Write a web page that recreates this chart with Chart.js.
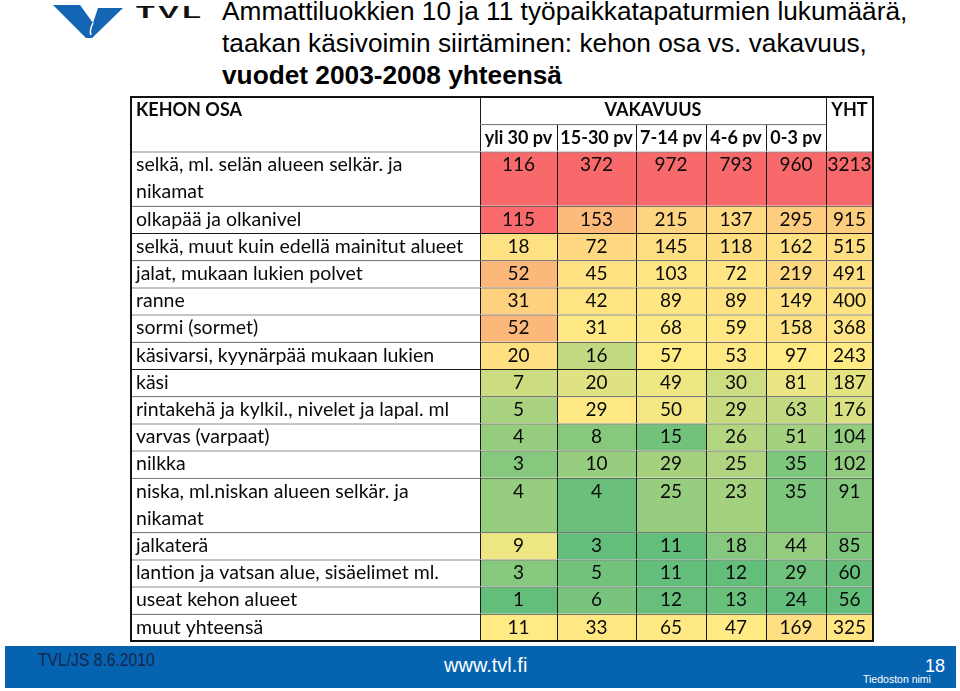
<!DOCTYPE html>
<html>
<head>
<meta charset="utf-8">
<script src="https://cdn.jsdelivr.net/npm/chart.js@4.4.1/dist/chart.umd.min.js"></script>
<style>
body{margin:0;background:#fff;width:960px;height:691px;overflow:hidden;position:relative;font-family:"Liberation Sans",Arial,sans-serif}
#kaavio{position:absolute;left:0;top:0}
.otsikko{position:absolute;left:222px;white-space:nowrap;font-size:25px;line-height:32px;color:#000;transform-origin:0 0;transform:scaleX(1.05)}
#logo{position:absolute;left:0;top:0}
.tvl{position:absolute;left:136px;top:3px;font-weight:bold;font-size:17px;letter-spacing:2px;transform-origin:0 0;transform:scaleX(1.8);color:#111}
#alaosa{position:absolute;left:5px;top:646px;width:951px;height:42px;background:#0563b0}
#alaosa div{position:absolute;white-space:nowrap;transform-origin:0 0}
</style>
</head>
<body>
<svg id="logo" width="130" height="45">
  <polygon points="53,5 80,5 93,23 98,8 123,8 92,38 86,38" fill="#1565b5"/>
  <path d="M93,23 Q89,31 91,35" stroke="#fff" stroke-width="1.5" fill="none"/>
</svg>
<div class="tvl">TVL</div>
<div class="otsikko" style="top:-5px">Ammattiluokkien 10 ja 11 työpaikkatapaturmien lukumäärä,</div>
<div class="otsikko" style="top:27px">taakan käsivoimin siirtäminen: kehon osa vs. vakavuus,</div>
<div class="otsikko" style="top:59px;font-weight:bold">vuodet 2003-2008 yhteensä</div>
<canvas id="kaavio" width="960" height="691"></canvas>
<div id="alaosa">
  <div style="left:33px;top:4px;font-size:18px;color:#17264f;transform:scaleX(0.87)">TVL/JS 8.6.2010</div>
  <div style="left:439px;top:8px;font-size:20px;color:#fff">www.tvl.fi</div>
  <div style="left:920px;top:10px;font-size:18px;color:#fff">18</div>
  <div style="left:858px;top:27px;font-size:10.5px;color:#fff">Tiedoston nimi</div>
</div>
<script>
// kehon osat (rivit)
var kehonOsat = [
    ['selkä, ml. selän alueen selkär. ja', 'nikamat'],
    'olkapää ja olkanivel',
    'selkä, muut kuin edellä mainitut alueet',
    'jalat, mukaan lukien polvet',
    'ranne',
    'sormi (sormet)',
    'käsivarsi, kyynärpää mukaan lukien',
    'käsi',
    'rintakehä ja kylkil., nivelet ja lapal. ml',
    'varvas (varpaat)',
    'nilkka',
    ['niska, ml.niskan alueen selkär. ja', 'nikamat'],
    'jalkaterä',
    'lantion ja vatsan alue, sisäelimet ml.',
    'useat kehon alueet',
    'muut yhteensä'
];
var vakavuus = ['yli 30 pv', '15-30 pv', '7-14 pv', '4-6 pv', '0-3 pv'];

var yli30 = [116, 115, 18, 52, 31, 52, 20, 7, 5, 4, 3, 4, 9, 3, 1, 11];
var pv15_30 = [372, 153, 72, 45, 42, 31, 16, 20, 29, 8, 10, 4, 3, 5, 6, 33];
var pv7_14 = [972, 215, 145, 103, 89, 68, 57, 49, 50, 15, 29, 25, 11, 11, 12, 65];
var pv4_6 = [793, 137, 118, 72, 89, 59, 53, 30, 29, 26, 25, 23, 18, 12, 13, 47];
var pv0_3 = [960, 295, 162, 219, 149, 158, 97, 81, 63, 51, 35, 35, 44, 29, 24, 169];
var yht = [3213, 915, 515, 491, 400, 368, 243, 187, 176, 104, 102, 91, 85, 60, 56, 325];

var sarakkeet = [yli30, pv15_30, pv7_14, pv4_6, pv0_3, yht];

// taulukon mitat
var sarakeLeveys = [349, 77, 79, 70, 60, 60, 47];
var vasen = 131, yla = 97, oikea = 873, ala = 641;
var riviYksikot = 20;
var riviKorkeus = (ala - yla) / riviYksikot;

var sarakeAlku = [0];
sarakeLeveys.forEach(function (l, i) { sarakeAlku.push(sarakeAlku[i] + l); });

// väriasteikko sarakkeittain (vihreä - keltainen - punainen)
function mediaani(arr) {
    var s = arr.slice().sort(function (a, b) { return a - b; });
    var m = Math.floor(s.length / 2);
    return s.length % 2 ? s[m] : (s[m - 1] + s[m]) / 2;
}
var asteikot = sarakkeet.map(function (s) {
    return { min: Math.min.apply(null, s), keski: mediaani(s), max: Math.max.apply(null, s) };
});
var vihrea = [99, 190, 123], keltainen = [255, 235, 132], punainen = [248, 105, 107];
function sekoita(a, b, t) {
    return 'rgb(' + a.map(function (v, i) { return Math.round(v + (b[i] - v) * t); }).join(',') + ')';
}
function vari(sarake, arvo) {
    var a = asteikot[sarake];
    if (arvo <= a.keski) return sekoita(vihrea, keltainen, (arvo - a.min) / (a.keski - a.min));
    return sekoita(keltainen, punainen, (arvo - a.keski) / (a.max - a.keski));
}

var yksi = [], kaksi = [];
function solu(korkeus, alkuSarake, loppuSarake, rivi, teksti, arvo, tyyli) {
    var lista = korkeus === 2 ? kaksi : yksi;
    lista.push({
        x: [sarakeAlku[alkuSarake], sarakeAlku[loppuSarake + 1]],
        y: rivi + korkeus / 2,
        teksti: teksti, arvo: arvo, sarake: alkuSarake - 1, tyyli: tyyli
    });
}

solu(2, 0, 0, 0, 'KEHON OSA', null, 'otsikkoVasen');
solu(1, 1, 5, 0, 'VAKAVUUS', null, 'otsikko');
solu(2, 6, 6, 0, 'YHT', null, 'otsikko');
vakavuus.forEach(function (v, i) { solu(1, i + 1, i + 1, 1, v, null, 'otsikko'); });

var rivi = 2;
kehonOsat.forEach(function (osa, r) {
    var k = Array.isArray(osa) ? osa.length : 1;
    solu(k, 0, 0, rivi, osa, null, 'nimi');
    sarakkeet.forEach(function (s, c) {
        solu(k, c + 1, c + 1, rivi, String(s[r]), s[r], 'luku');
    });
    rivi += k;
});

function taytto(ctx) {
    var d = ctx.raw;
    if (!d || d.arvo === null) return '#ffffff';
    return vari(d.sarake, d.arvo);
}

var fontit = {
    nimi: ['19.5px Lato', 'left'],
    otsikkoVasen: ['bold 18px Lato', 'left'],
    otsikko: ['bold 18px Lato', 'center'],
    luku: ['19px Lato', 'center']
};

var reunat = {
    id: 'reunat',
    afterDatasetsDraw: function (chart) {
        var ctx = chart.ctx;
        var ys = chart.scales.y;
        var yks = Math.abs(ys.getPixelForValue(1) - ys.getPixelForValue(0));
        ctx.save();
        ctx.fillStyle = '#0a0a0a';
        ctx.textBaseline = 'middle';
        chart.data.datasets.forEach(function (ds, d) {
            chart.getDatasetMeta(d).data.forEach(function (el, i) {
                var s = ds.data[i];
                var x0 = Math.min(el.x, el.base), x1 = Math.max(el.x, el.base);
                var ylin = el.y - el.height / 2;
                ctx.font = fontit[s.tyyli][0];
                ctx.textAlign = fontit[s.tyyli][1];
                var tx = ctx.textAlign === 'left' ? x0 + 5 : (x0 + x1) / 2;
                [].concat(s.teksti).forEach(function (t, k) {
                    ctx.fillText(t, tx, ylin + yks * (k + 0.5));
                });
            });
        });
        var a = chart.chartArea;
        ctx.strokeStyle = '#111';
        ctx.lineWidth = 2;
        ctx.strokeRect(a.left, a.top, a.right - a.left, a.bottom - a.top);
        ctx.restore();
    }
};

var pohja = {
    data: [], grouped: false, borderSkipped: false,
    borderColor: '#1a1a1a', borderWidth: { top: 1, left: 1, right: 0, bottom: 0 },
    backgroundColor: taytto, inflateAmount: 0
};

new Chart(document.getElementById('kaavio'), {
    type: 'bar',
    data: {
        datasets: [
            Object.assign({}, pohja, { label: 'yksi', data: yksi, barThickness: riviKorkeus }),
            Object.assign({}, pohja, { label: 'kaksi', data: kaksi, barThickness: riviKorkeus * 2 })
        ]
    },
    options: {
        responsive: false,
        animation: false,
        devicePixelRatio: 1,
        indexAxis: 'y',
        layout: { padding: { left: vasen, right: 960 - oikea, top: yla, bottom: 691 - ala } },
        plugins: { legend: { display: false }, tooltip: { enabled: false } },
        scales: {
            x: { type: 'linear', min: 0, max: sarakeAlku[sarakeAlku.length - 1], display: false, offset: false },
            y: { type: 'linear', min: 0, max: riviYksikot, reverse: true, display: false, offset: false }
        }
    },
    plugins: [reunat]
});
</script>
</body>
</html>
